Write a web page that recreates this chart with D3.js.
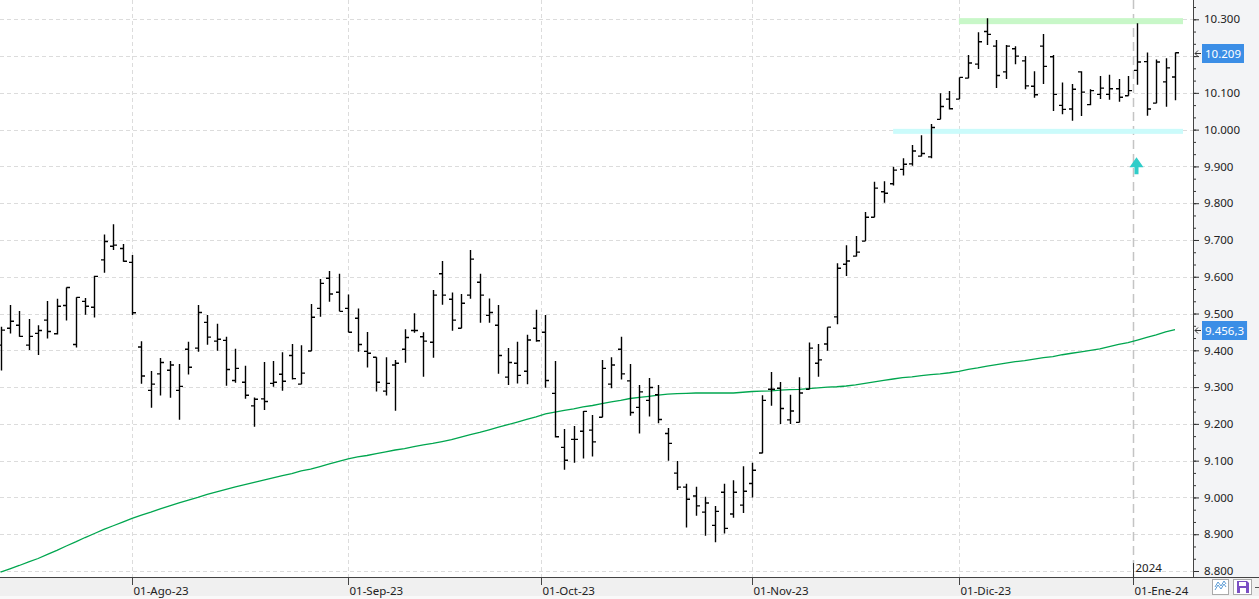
<!DOCTYPE html>
<html>
<head>
<meta charset="utf-8">
<script src="https://cdnjs.cloudflare.com/ajax/libs/d3/7.8.5/d3.min.js"></script>
<style>
	html, body { margin: 0; padding: 0; background: #fff; overflow: hidden; }
	svg { display: block; }
	text { font-family: "Noto Sans", "Open Sans", sans-serif; }
</style>
</head>
<body>
<svg id="chart"></svg>
<script>
// trading calendar (weekdays, minus market holidays)
var firstDay = '2023-07-12',
    lastDay = '2024-01-08',
    holidays = ['2023-12-25', '2023-12-26', '2024-01-01'];

var monthNames = ['Ene', 'Feb', 'Mar', 'Abr', 'May', 'Jun', 'Jul', 'Ago', 'Sep', 'Oct', 'Nov', 'Dic'];

// daily OHLC
var open = [9414, 9460, 9468, 9414, 9446, 9482, 9445, 9522, 9416, 9533, 9517, 9646, 9683, 9677, 9639, 9409, 9291, 9336, 9346, 9291, 9403, 9406, 9476, 9425, 9427, 9318, 9313, 9249, 9268, 9310, 9335, 9386,
	9308, 9398, 9514, 9596, 9558, 9514, 9487, 9397, 9381, 9289, 9360, 9403, 9454, 9437, 9422, 9608, 9539, 9460, 9550, 9585, 9495, 9468, 9327, 9365, 9343, 9460, 9449, 9283, 9136, 9158, 9180, 9183,
	9218, 9308, 9403, 9317, 9245, 9264, 9279, 9174, 9066, 9028, 9004, 8960, 8924, 9014, 8955, 8979, 9038, 9121, 9294, 9297, 9211, 9204, 9294, 9365, 9417,
	9491, 9634, 9656, 9697, 9762, 9831,
	9853, 9892, 9907, 9928, 9926, 10028, 10083, 10083, 10140, 10178, 10267, 10227, 10157, 10220, 10187, 10118, 10227, 10198, 10066, 10056, 10157, 10068, 10096, 10096, 10111, 10092, 10161, 10185, 10072, 10130, 10143];

var high = [9464, 9523, 9507, 9485, 9468, 9534, 9540, 9571, 9544, 9542, 9603, 9715, 9743, 9689, 9659, 9425, 9344, 9379, 9371, 9363, 9423, 9523, 9496, 9472, 9437, 9404, 9358, 9272, 9368, 9371, 9395, 9417,
	9414, 9526, 9594, 9616, 9608, 9552, 9514, 9450, 9381, 9381, 9374, 9457, 9501, 9449, 9564, 9643, 9557, 9553, 9673, 9608, 9541, 9523, 9406, 9423, 9442, 9510, 9496, 9371, 9186, 9194, 9235, 9224,
	9374, 9381, 9437, 9363, 9306, 9325, 9306, 9189, 9099, 9037, 9029, 9002, 8977, 9037, 9047, 9085, 9094, 9278, 9341, 9314, 9279, 9327, 9421, 9417, 9463,
	9637, 9686, 9711, 9776, 9858, 9860,
	9899, 9922, 9958, 9985, 10015, 10099, 10105, 10142, 10203, 10265, 10303, 10244, 10230, 10227, 10200, 10159, 10260, 10203, 10128, 10124, 10159, 10110, 10146, 10149, 10138, 10146, 10289, 10210, 10191, 10194, 10210];

var low = [9345, 9446, 9437, 9401, 9387, 9432, 9443, 9481, 9408, 9497, 9489, 9611, 9673, 9641, 9496, 9309, 9244, 9277, 9271, 9211, 9334, 9396, 9415, 9399, 9304, 9312, 9268, 9192, 9238, 9301, 9290, 9321,
	9308, 9398, 9491, 9532, 9506, 9449, 9396, 9353, 9288, 9277, 9236, 9366, 9448, 9328, 9380, 9524, 9453, 9460, 9540, 9475, 9475, 9336, 9306, 9310, 9308, 9423, 9298, 9163, 9075, 9094, 9106, 9111,
	9218, 9297, 9321, 9222, 9174, 9220, 9202, 9100, 9020, 8918, 8950, 8896, 8878, 8902, 8945, 8958, 9000, 9120, 9249, 9200, 9200, 9204, 9294, 9328, 9399,
	9471, 9602, 9655, 9697, 9762, 9801,
	9848, 9875, 9902, 9927, 9922, 10028, 10055, 10083, 10140, 10165, 10230, 10113, 10138, 10178, 10110, 10087, 10124, 10051, 10042, 10024, 10037, 10066, 10083, 10081, 10076, 10092, 10122, 10038, 10072, 10062, 10080];

var close = [9455, 9479, 9438, 9438, 9454, 9451, 9520, 9571, 9544, 9520, 9601, 9696, 9686, 9642, 9502, 9330, 9308, 9367, 9360, 9302, 9354, 9503, 9436, 9430, 9348, 9351, 9278, 9267, 9261, 9313, 9316, 9323,
	9338, 9490, 9582, 9553, 9506, 9449, 9416, 9392, 9313, 9310, 9365, 9435, 9454, 9425, 9550, 9550, 9482, 9528, 9648, 9550, 9503, 9386, 9367, 9332, 9428, 9426, 9318, 9165, 9101, 9158, 9234, 9151,
	9351, 9360, 9336, 9231, 9287, 9299, 9212, 9147, 9028, 8995, 8977, 8985, 8962, 8916, 9014, 9017, 9074, 9264, 9294, 9242, 9235, 9284, 9406, 9374, 9463,
	9623, 9643, 9667, 9762, 9841, 9827,
	9890, 9906, 9942, 9935, 10006, 10063, 10057, 10142, 10181, 10239, 10259, 10147, 10227, 10200, 10119, 10095, 10172, 10096, 10055, 10110, 10102, 10106, 10113, 10111, 10088, 10106, 10184, 10056, 10184, 10168, 10209];

// 200 session moving average
var ma200 = [8797, 8806, 8815, 8825, 8834, 8845, 8856, 8868, 8879, 8891,
	8902, 8913, 8923, 8933, 8943, 8952, 8960, 8969, 8977, 8985,
	8993, 9000, 9008, 9015, 9022, 9029, 9035, 9041, 9047, 9053,
	9059, 9065, 9072, 9077, 9084, 9091, 9098, 9105, 9110, 9114,
	9119, 9124, 9129, 9133, 9138, 9143, 9147, 9152, 9157, 9164,
	9171, 9177, 9184, 9191, 9198, 9205, 9212, 9219, 9227, 9232,
	9237, 9241, 9246, 9250, 9255, 9260, 9264, 9269, 9272, 9275,
	9278, 9281, 9282, 9283, 9284, 9284, 9284, 9284, 9284, 9286,
	9288, 9289, 9290, 9292, 9293, 9294, 9296, 9298, 9300, 9301,
	9303, 9306, 9310, 9314, 9318, 9322, 9326, 9328, 9331, 9334,
	9336, 9339, 9343, 9348, 9352, 9357, 9361, 9365, 9369, 9372,
	9376, 9380, 9383, 9388, 9392, 9396, 9400, 9404, 9410, 9416,
	9421, 9428, 9435, 9442, 9450, 9456];

var maLast = 9456.3;

// drawn levels: [value, first session index]
var resistance = [10295, 102],
    support = [9994, 95],
    arrowUp = [9925, 121];

var yTicks = [8800, 8900, 9000, 9100, 9200, 9300, 9400, 9500, 9600, 9700, 9800, 9900, 10000, 10100, 10200, 10300];

// build the sessions
var dates = [];
var day = new Date(firstDay + 'T00:00:00Z'),
    end = new Date(lastDay + 'T00:00:00Z');
while (day <= end) {
	var iso = d3.utcFormat('%Y-%m-%d')(day);
	if (day.getUTCDay() !== 0 && day.getUTCDay() !== 6 && holidays.indexOf(iso) < 0) {
		dates.push(new Date(day));
	}
	day.setUTCDate(day.getUTCDate() + 1);
}

var width = 1259, height = 599,
    plotRight = 1193, plotBottom = 577;

var locale = d3.formatLocale({decimal: ',', thousands: '.', grouping: [3], currency: ['', '']});
var fmt0 = locale.format(',.0f'),
    fmt1 = locale.format(',.1f');

var svg = d3.select('#chart')
	.attr('width', width)
	.attr('height', height);

var x = d3.scaleLinear()
	.domain([0, dates.length - 1])
	.range([0.5, 1175]);

var y = d3.scaleLinear()
	.domain([8800, 10300])
	.range([571, 19.3]);

// values that get a blue label on the axis
var flagged = [close[close.length - 1], maLast];

// panels
svg.append('rect')
	.attr('width', width).attr('height', height)
	.style('fill', '#fff');

svg.append('rect')
	.attr('x', plotRight).attr('y', 0)
	.attr('width', width - plotRight).attr('height', height)
	.style('fill', '#f3f4f6');

svg.append('rect')
	.attr('x', 0).attr('y', plotBottom)
	.attr('width', width).attr('height', height - plotBottom)
	.style('fill', '#f0f0f0');

svg.append('rect')
	.attr('x', 0).attr('y', 596)
	.attr('width', width).attr('height', 3)
	.style('fill', '#f9f9f9');

svg.append('clipPath')
	.attr('id', 'plot-clip')
	.append('rect')
	.attr('width', plotRight).attr('height', plotBottom);

var plot = svg.append('g').attr('clip-path', 'url(#plot-clip)');

// month ticks: on the first session of the month, or between sessions if the 1st is closed
var monthTicks = d3.utcMonth.range(dates[0], dates[dates.length - 1]).map(function(m) {
	var i = dates.findIndex(function(d) { return d >= m; });
	return {
		date: m,
		pos: +dates[i] === +m ? i : i - 0.5,
		label: d3.utcFormat('%d')(m) + '-' + monthNames[m.getUTCMonth()] + '-' + d3.utcFormat('%y')(m)
	};
});

// grid
plot.selectAll('.hgrid')
	.data(yTicks)
	.enter()
	.append('line')
	.attr('class', 'hgrid')
	.attr('x1', 0).attr('x2', plotRight)
	.attr('y1', function(d) { return Math.round(y(d)) + 0.5; })
	.attr('y2', function(d) { return Math.round(y(d)) + 0.5; })
	.style('stroke', '#dcdcdc')
	.style('stroke-dasharray', '4,3');

plot.selectAll('.vgrid')
	.data(monthTicks)
	.enter()
	.append('line')
	.attr('class', 'vgrid')
	.attr('x1', function(d) { return Math.round(x(d.pos)) + 0.5; })
	.attr('x2', function(d) { return Math.round(x(d.pos)) + 0.5; })
	.attr('y1', 0).attr('y2', plotBottom)
	.style('stroke', function(d) { return d.date.getUTCMonth() === 0 ? '#c4c4c4' : '#dcdcdc'; })
	.style('stroke-width', function(d) { return d.date.getUTCMonth() === 0 ? 1.5 : 1; })
	.style('stroke-dasharray', function(d) { return d.date.getUTCMonth() === 0 ? '9,5' : '4,3'; });

// support / resistance bands
[resistance, support].forEach(function(level, k) {
	plot.append('rect')
		.attr('x', x(level[1]))
		.attr('y', y(level[0]) - 3)
		.attr('width', 1183 - x(level[1]))
		.attr('height', k === 0 ? 6 : 5)
		.style('fill', k === 0 ? '#c8f7c8' : '#cbfbfb');
});

// moving average
var maLine = d3.line()
	.x(function(d, i) { return x(i); })
	.y(function(d) { return y(d); });

plot.append('path')
	.datum(ma200)
	.attr('d', maLine)
	.style('fill', 'none')
	.style('stroke', '#00a64f')
	.style('stroke-width', 1.3);

// OHLC bars
plot.selectAll('.bar')
	.data(dates)
	.enter()
	.append('path')
	.attr('class', 'bar')
	.attr('d', function(d, i) {
		var bx = Math.round(x(i)) + 0.5;
		return 'M' + bx + ',' + y(high[i]) + 'V' + y(low[i]) +
			'M' + (bx - 3.5) + ',' + y(open[i]) + 'H' + bx +
			'M' + bx + ',' + y(close[i]) + 'H' + (bx + 3.5);
	})
	.style('fill', 'none')
	.style('stroke', '#000')
	.style('stroke-width', 1.4);

// arrow marker
var ax = Math.round(x(arrowUp[1])) - 0.5, ay = y(arrowUp[0]);
plot.append('path')
	.attr('d', 'M' + ax + ',' + ay + 'L' + (ax + 7) + ',' + (ay + 10) + 'L' + (ax + 2) + ',' + (ay + 10) +
		'L' + (ax + 2) + ',' + (ay + 17) + 'L' + (ax - 2) + ',' + (ay + 17) + 'L' + (ax - 2) + ',' + (ay + 10) +
		'L' + (ax - 7) + ',' + (ay + 10) + 'Z')
	.style('fill', '#30cdc9');

// right axis
var yAxis = d3.axisRight(y)
	.tickValues(yTicks)
	.tickSize(6)
	.tickPadding(5)
	.tickFormat(fmt0);

var minorTicks = d3.range(-3, 49).map(function(k) { return 8800 + k * 100 / 3; })
	.filter(function(v) { return y(v) > 0 && y(v) < plotBottom; });

var yMinor = d3.axisRight(y)
	.tickValues(minorTicks)
	.tickSize(3)
	.tickFormat('');

svg.append('g')
	.attr('transform', 'translate(' + plotRight + ',0)')
	.call(yMinor)
	.call(function(g) { g.select('.domain').remove(); });

svg.append('g')
	.attr('class', 'y-axis')
	.attr('transform', 'translate(' + plotRight + ',0)')
	.call(yAxis)
	.call(function(g) { g.select('.domain').remove(); });

svg.selectAll('.tick line').style('stroke', '#333');
svg.selectAll('.y-axis text')
	.style('font-size', '11.5px')
	.style('fill', '#222')
	.style('display', function(d) {
		// the blue value boxes hide the labels they sit on
		var hidden = flagged.some(function(v) { return Math.abs(y(v) - y(d)) < 12; });
		return hidden ? 'none' : null;
	});

svg.append('line')
	.attr('x1', plotRight + 0.5).attr('x2', plotRight + 0.5)
	.attr('y1', 0).attr('y2', plotBottom)
	.style('stroke', '#444');

// bottom axis
var xAxis = d3.axisBottom(x)
	.tickValues(monthTicks.map(function(d) { return d.pos; }))
	.tickSize(8)
	.tickPadding(2)
	.tickFormat(function(d, i) { return monthTicks[i].label; });

var xg = svg.append('g')
	.attr('transform', 'translate(0,' + plotBottom + ')')
	.call(xAxis)
	.call(function(g) { g.select('.domain').remove(); });

xg.selectAll('.tick line').style('stroke', '#444');
xg.selectAll('.tick')
	.attr('transform', function(d) { return 'translate(' + (Math.round(x(d)) + 0.5) + ',0)'; });
xg.selectAll('text')
	.attr('text-anchor', 'start')
	.attr('x', 1)
	.style('font-size', '11.5px')
	.style('fill', '#222');

svg.append('line')
	.attr('x1', 0).attr('x2', width)
	.attr('y1', plotBottom + 0.5).attr('y2', plotBottom + 0.5)
	.style('stroke', '#444');

// year marker
monthTicks.filter(function(d) { return d.date.getUTCMonth() === 0; }).forEach(function(d) {
	var yx = Math.round(x(d.pos)) + 0.5;
	svg.append('line')
		.attr('x1', yx).attr('x2', yx)
		.attr('y1', 563).attr('y2', plotBottom)
		.style('stroke', '#333');
	svg.append('text')
		.attr('x', yx + 2).attr('y', 572)
		.style('font-size', '11.5px')
		.style('fill', '#222')
		.text(d3.utcFormat('%Y')(d.date));
});

// current value labels
function priceLabel(value, text) {
	var py = Math.round(y(value)) + 0.5;
	var g = svg.append('g');
	var t = g.append('text')
		.attr('x', 1205).attr('y', py + 4)
		.style('font-size', '11.5px')
		.style('fill', '#fff')
		.text(text);
	var w = t.node().getComputedTextLength();
	g.insert('rect', 'text')
		.attr('x', 1202).attr('y', py - 9.5)
		.attr('width', w + 6).attr('height', 19)
		.style('fill', '#3b8ee6');
	g.append('path')
		.attr('d', 'M1201,' + py + 'H1195M1198,' + (py - 3) + 'L1195,' + py + 'L1198,' + (py + 3))
		.style('fill', 'none')
		.style('stroke', '#333')
		.style('stroke-width', 1);
}

priceLabel(flagged[0], fmt0(flagged[0]));
priceLabel(flagged[1], fmt1(flagged[1]));

// toolbar icons
svg.append('rect')
	.attr('x', 1212.5).attr('y', 579.5).attr('width', 16).attr('height', 15)
	.style('fill', '#fff').style('stroke', '#aaa');
svg.append('path')
	.attr('d', 'M1215,590L1218,585L1221,589L1224,584L1226,587M1215,587L1218,582L1221,586L1224,581L1226,584')
	.style('fill', 'none').style('stroke', '#5b9bd5').style('stroke-width', 1);
svg.append('rect')
	.attr('x', 1233.5).attr('y', 579.5).attr('width', 18).attr('height', 15)
	.style('fill', '#fff').style('stroke', '#aaa');
svg.append('path')
	.attr('d', 'M1237,581H1247L1249,583V593H1237Z')
	.style('fill', '#7b4fc4');
svg.append('rect')
	.attr('x', 1239).attr('y', 582).attr('width', 7).attr('height', 4)
	.style('fill', '#fff');
svg.append('rect')
	.attr('x', 1240).attr('y', 588).attr('width', 6).attr('height', 5)
	.style('fill', '#fff');
svg.append('line')
	.attr('x1', 1255).attr('x2', 1259).attr('y1', 587.5).attr('y2', 587.5)
	.style('stroke', '#555');
</script>
</body>
</html>
